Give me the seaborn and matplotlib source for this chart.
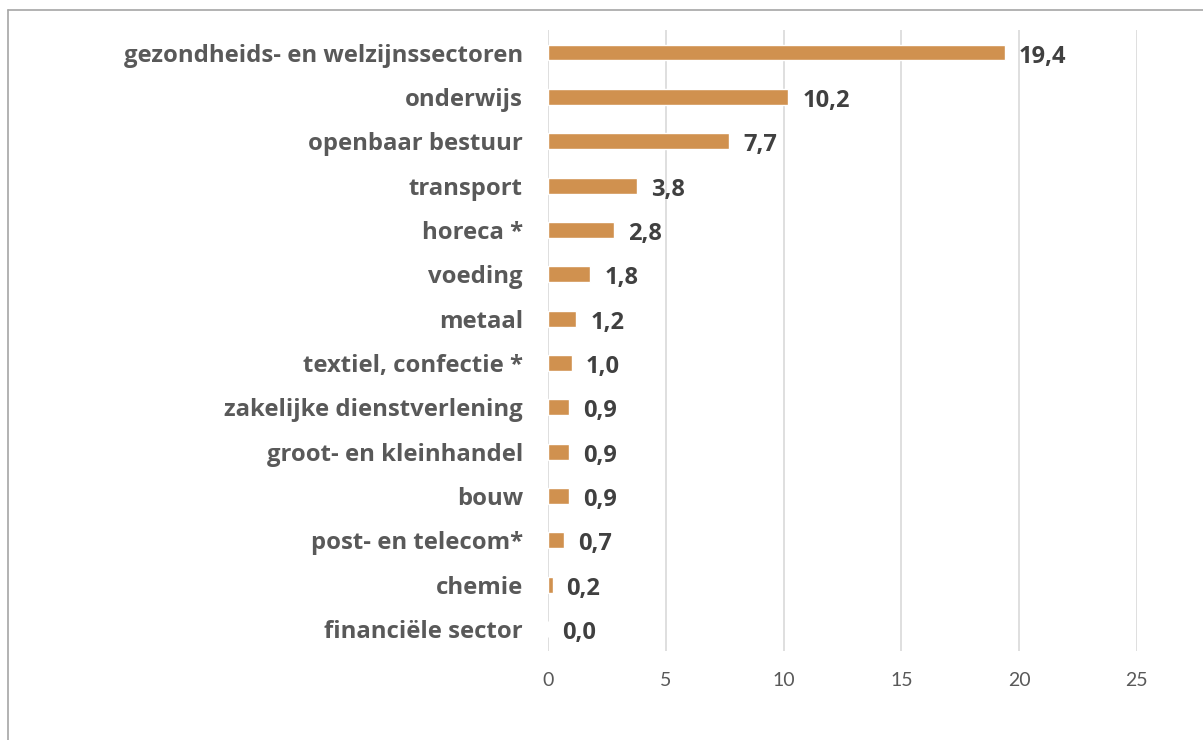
import matplotlib
matplotlib.use("Agg")
import matplotlib.pyplot as plt
import seaborn as sns
import pandas as pd
from matplotlib.lines import Line2D

sectors = [
    "gezondheids- en welzijnssectoren", "onderwijs", "openbaar bestuur", "transport",
    "horeca *", "voeding", "metaal", "textiel, confectie *",
    "zakelijke dienstverlening", "groot- en kleinhandel", "bouw",
    "post- en telecom*", "chemie", "financiële sector",
]
values = [19.4, 10.2, 7.7, 3.8, 2.8, 1.8, 1.2, 1.0, 0.9, 0.9, 0.9, 0.7, 0.2, 0.0]
xticks = [0, 5, 10, 15, 20, 25]

sns.set_theme(style="white")
plt.rcParams["font.family"] = ["Open Sans", "DejaVu Sans"]

df = pd.DataFrame({"sector": sectors, "value": values})

fig = plt.figure(figsize=(12.03, 7.40), dpi=100)
ax = fig.add_axes([0.4555, 0.12, 0.4895, 0.839])

sns.barplot(data=df, y="sector", x="value", orient="h", color="#D0914F",
            saturation=1, width=0.36, ax=ax)

ax.set_xlim(0, 25)
ax.set_ylim(len(sectors) - 0.5, -0.5)
ax.set_xticks(xticks)
ax.set_xticklabels([str(t) for t in xticks], fontsize=14, color="#595959",
                   family=["Lato", "DejaVu Sans"])
ax.tick_params(axis="x", length=0, pad=15)
ax.tick_params(axis="y", length=0, pad=18)
for lbl in ax.get_yticklabels():
    lbl.set_fontsize(17.2)
    lbl.set_fontweight("bold")
    lbl.set_color("#595959")
ax.set_xlabel("")
ax.set_ylabel("")
ax.grid(axis="x", color="#D9D9D9", linewidth=1.2)
ax.set_axisbelow(True)
for s in ax.spines.values():
    s.set_visible(False)

for i, v in enumerate(values):
    ax.annotate(f"{v:.1f}".replace(".", ","), xy=(v, i), xytext=(10, -3),
                textcoords="offset points", ha="left", va="center",
                fontsize=17, fontweight="bold", color="#404040")

# partial frame (top and left border)
fig.add_artist(Line2D([8 / 1203, 1], [1 - 10 / 740, 1 - 10 / 740],
                      transform=fig.transFigure, color="#A6A6A6", linewidth=1.2))
fig.add_artist(Line2D([8 / 1203, 8 / 1203], [0, 1 - 10 / 740],
                      transform=fig.transFigure, color="#A6A6A6", linewidth=1.2))

fig.savefig("out.png", dpi=100)
